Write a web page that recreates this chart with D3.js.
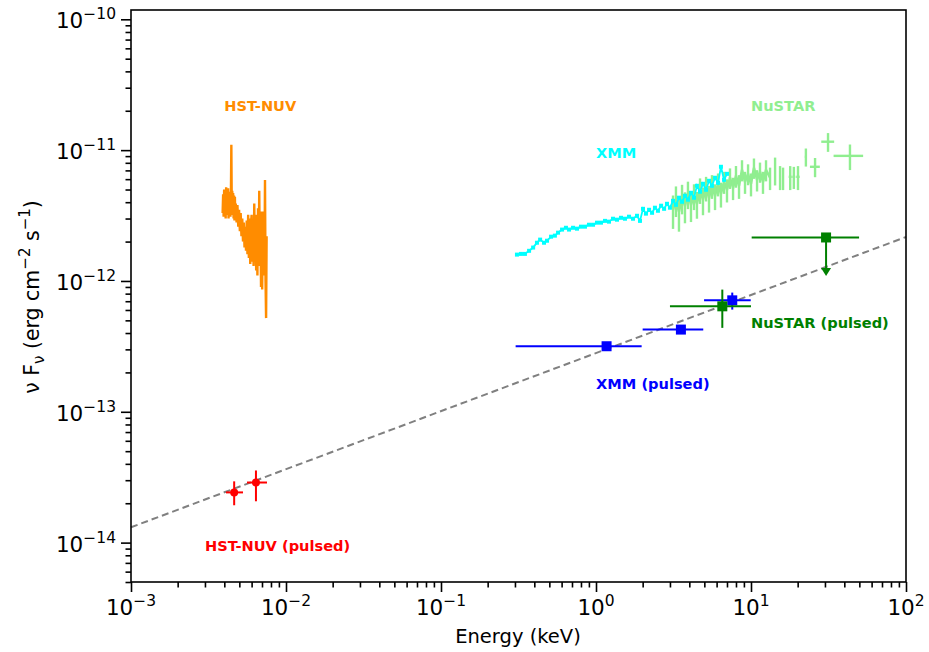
<!DOCTYPE html>
<html>
<head>
<meta charset="utf-8">
<title>Broadband spectrum</title>
<style>
  body { margin: 0; background: #fff; }
  text { font-family: "DejaVu Sans", sans-serif; }
</style>
</head>
<body>
<div id="chart"></div>
<script src="https://cdn.jsdelivr.net/npm/d3@7"></script>
<script>

// HST-NUV spectrum: energy in eV, flux in 1e-12 erg/cm2/s
var hstEv = [3.90, 3.93, 3.96, 3.99, 4.02, 4.05, 4.08, 4.11, 4.14, 4.17, 4.20, 4.23, 4.26, 4.29, 4.32,
  4.35, 4.38, 4.41, 4.44, 4.47, 4.50, 4.53, 4.56, 4.59, 4.62, 4.65, 4.68, 4.71, 4.74,
  4.80, 4.86, 4.92, 4.98, 5.04, 5.10, 5.16, 5.22, 5.28, 5.34, 5.40, 5.46, 5.52, 5.58, 5.64,
  5.70, 5.76, 5.82, 5.88, 5.94, 6.00, 6.06, 6.12, 6.18, 6.24, 6.30, 6.36, 6.42, 6.48, 6.54,
  6.60, 6.66, 6.72, 6.78, 6.84, 6.90, 6.96, 7.02, 7.08, 7.14, 7.20, 7.26, 7.32, 7.38, 7.44, 7.50];
var hstFlux = [3.3, 4.6, 3.1, 5.0, 3.4, 4.9, 3.0, 5.2, 3.5, 4.7, 3.2, 5.1, 3.0, 4.8, 3.3,
  4.6, 3.1, 4.4, 11.0, 3.4, 4.9, 3.2, 4.7, 3.0, 4.5, 2.9, 4.4, 3.1, 3.9,
  2.8, 3.8, 2.6, 3.5, 2.4, 3.3, 2.2, 3.0, 2.0, 2.8, 1.8, 2.6, 1.7, 2.9, 1.6,
  3.2, 1.5, 3.0, 1.35, 2.7, 3.2, 1.4, 2.8, 1.3, 3.9, 1.5, 3.2, 1.2, 2.6, 1.1,
  3.6, 1.3, 4.9, 1.6, 3.4, 0.9, 2.7, 0.86, 3.4, 1.1, 2.8, 1.4, 5.9, 1.0, 0.52, 2.2];

// XMM spectrum: keV, 1e-12 erg/cm2/s
var xmmE = [0.309, 0.328, 0.348, 0.370, 0.393, 0.416, 0.436, 0.462, 0.483, 0.513, 0.543, 0.569, 0.604, 0.640, 0.670,
  0.711, 0.754, 0.800, 0.849, 0.901, 0.957, 1.015, 1.077, 1.143, 1.213, 1.287, 1.366, 1.450, 1.538, 1.633,
  1.733, 1.839, 1.922, 2.01, 2.10, 2.20, 2.30, 2.40, 2.51, 2.63, 2.75, 2.87, 3.00, 3.14, 3.28,
  3.43, 3.59, 3.75, 3.92, 4.10, 4.29, 4.48, 4.69, 4.90, 5.13, 5.36, 5.60, 5.86, 6.13, 6.40, 6.70, 7.00];
var xmmFlux = [1.59, 1.61, 1.61, 1.70, 1.80, 1.96, 2.07, 1.96, 2.03, 2.18, 2.22, 2.34, 2.47, 2.55, 2.47,
  2.55, 2.51, 2.60, 2.60, 2.69, 2.69, 2.79, 2.79, 2.88, 2.84, 2.99, 2.94, 3.04, 2.99, 3.10,
  2.99, 3.15, 2.88, 3.56, 3.27, 3.50, 3.32, 3.63, 3.44, 3.76, 3.56, 3.89, 3.63, 4.10, 3.82,
  4.33, 4.03, 4.48, 4.18, 4.72, 4.33, 5.34, 4.81, 5.53, 4.98, 5.83, 5.34, 6.15, 5.62, 7.46, 5.93, 6.59];

// NuSTAR spectrum: keV, 1e-12 erg/cm2/s, with 1-sigma errors
var nuE = [3.14, 3.28, 3.43, 3.59, 3.75, 3.92, 4.10, 4.29, 4.48, 4.69, 4.90,
  5.13, 5.36, 5.60, 5.86, 6.13, 6.40, 6.70, 7.00, 7.32, 7.66, 8.00,
  8.37, 8.75, 9.15, 9.57, 10.0, 10.45, 10.94, 11.43, 11.95, 12.50, 13.27,
  14.3, 15.4, 16.1, 17.9, 18.9, 20.1, 22.6, 25.9, 31.4, 43.5];
var nuFlux = [3.50, 4.18, 3.38, 4.33, 3.76, 4.64, 3.82, 4.48, 3.89, 4.98, 4.18,
  5.15, 4.33, 5.34, 4.48, 5.53, 4.64, 5.73, 4.98, 6.15, 5.15, 6.36,
  5.34, 7.07, 5.73, 6.59, 5.53, 7.33, 5.93, 6.83, 5.73, 7.07, 6.15,
  7.07, 6.25, 6.15, 6.25, 6.25, 6.25, 8.89, 7.46, 11.6, 9.04];
var nuFluxErr = [1.0, 1.1, 1.0, 1.1, 1.0, 1.1, 1.0, 1.0, 0.9, 1.1, 1.0,
  1.1, 1.0, 1.1, 1.0, 1.1, 1.0, 1.1, 1.0, 1.1, 1.0, 1.2,
  1.1, 1.3, 1.1, 1.2, 1.1, 1.3, 1.1, 1.2, 1.1, 1.3, 1.2,
  1.7, 1.3, 1.2, 1.3, 1.2, 1.3, 1.4, 1.25, 1.9, 2.0];
var nuEErr = [0, 0, 0, 0, 0, 0, 0, 0, 0, 0, 0,
  0, 0, 0, 0, 0, 0, 0, 0, 0, 0, 0,
  0, 0, 0, 0, 0, 0, 0, 0, 0, 0, 0,
  0.2, 0.2, 0.2, 0.4, 0.4, 0.5, 0.35, 1.9, 3.0, 9.4];

// pulsed points: keV and erg/cm2/s
var hstPulsedE = [0.00463, 0.0064];
var hstPulsedELo = [0.0041, 0.0056];
var hstPulsedEHi = [0.00528, 0.00754];
var hstPulsedF = [2.42e-14, 2.88e-14];
var hstPulsedFLo = [1.93e-14, 2.07e-14];
var hstPulsedFHi = [2.94e-14, 3.56e-14];

var xmmPulsedE = [1.17, 3.53, 7.57];
var xmmPulsedELo = [0.303, 2.0, 4.98];
var xmmPulsedEHi = [1.97, 4.92, 9.96];
var xmmPulsedF = [3.17e-13, 4.25e-13, 7.11e-13];
var xmmPulsedFLo = [3.17e-13, 4.25e-13, 6.04e-13];
var xmmPulsedFHi = [3.17e-13, 4.25e-13, 8.15e-13];

var nuPulsedE = [6.53];
var nuPulsedELo = [3.0];
var nuPulsedEHi = [10.0];
var nuPulsedF = [6.4e-13];
var nuPulsedFLo = [4.38e-13];
var nuPulsedFHi = [8.59e-13];

// upper limit
var nuLimitE = 30.5, nuLimitELo = 10.1, nuLimitEHi = 49.8;
var nuLimitF = 2.15e-12, nuLimitArrowF = 1.17e-12;

// power-law model (dashed)
var modelE = [1e-3, 1e2];
var modelF = [1.31e-14, 2.17e-12];

var labels = [
  {text: 'HST-NUV', e: 0.004, f: 2e-11, color: 'darkorange'},
  {text: 'XMM', e: 1, f: 8.7e-12, color: 'cyan'},
  {text: 'NuSTAR', e: 10, f: 2e-11, color: 'lightgreen'},
  {text: 'NuSTAR (pulsed)', e: 10, f: 4.4e-13, color: 'green'},
  {text: 'XMM (pulsed)', e: 1, f: 1.5e-13, color: 'blue'},
  {text: 'HST-NUV (pulsed)', e: 0.003, f: 8.6e-15, color: 'red'}
];

var width = 929;
var height = 652;

var x = d3.scaleLog().domain([1e-3, 1e2]).range([131, 906]);
var y = d3.scaleLog().domain([5e-15, 1.178e-10]).range([582, 10]);

var svg = d3.select('#chart').append('svg')
    .attr('width', width)
    .attr('height', height)
    .style('background', '#fff');

// ticks
var xMajor = [1e-3, 1e-2, 1e-1, 1, 10, 100];
var yMajor = [1e-14, 1e-13, 1e-12, 1e-11, 1e-10];
var xMinor = [], yMinor = [];
d3.range(-3, 2).forEach(function (d) {
  d3.range(2, 10).forEach(function (k) { xMinor.push(k * Math.pow(10, d)); });
});
d3.range(-15, -10).forEach(function (d) {
  d3.range(2, 10).forEach(function (k) {
    var v = k * Math.pow(10, d);
    if (v >= 4.99e-15 && v <= 1.178e-10) yMinor.push(v);
  });
});

function styleAxis(g) {
  g.select('.domain').remove();
  g.selectAll('.tick line').attr('stroke', '#000').attr('stroke-width', 1.6);
}

svg.append('g').attr('transform', 'translate(0,582)')
    .call(d3.axisBottom(x).tickValues(xMinor).tickSize(5.5).tickFormat(''))
    .call(styleAxis);
svg.append('g').attr('transform', 'translate(0,582)')
    .call(d3.axisBottom(x).tickValues(xMajor).tickSize(10).tickFormat(''))
    .call(styleAxis);
svg.append('g').attr('transform', 'translate(131,0)')
    .call(d3.axisLeft(y).tickValues(yMinor).tickSize(5.5).tickFormat(''))
    .call(styleAxis);
svg.append('g').attr('transform', 'translate(131,0)')
    .call(d3.axisLeft(y).tickValues(yMajor).tickSize(10).tickFormat(''))
    .call(styleAxis);

function powerLabel(sel, v) {
  var e = Math.round(Math.log10(v));
  sel.append('tspan').text('10');
  sel.append('tspan').attr('dy', -9).attr('font-size', 15.5)
    .text(e < 0 ? '\u2212' + (-e) : String(e));
}

svg.selectAll('.xlab').data(xMajor).enter().append('text')
    .attr('class', 'xlab')
    .attr('x', function (d) { return x(d); })
    .attr('y', 615)
    .attr('text-anchor', 'middle')
    .attr('font-size', 21.5)
    .each(function (d) { powerLabel(d3.select(this), d); });

svg.selectAll('.ylab').data(yMajor).enter().append('text')
    .attr('class', 'ylab')
    .attr('x', 116)
    .attr('y', function (d) { return y(d) + 9; })
    .attr('text-anchor', 'end')
    .attr('font-size', 21.5)
    .each(function (d) { powerLabel(d3.select(this), d); });

// axis titles
svg.append('text')
    .attr('x', 518).attr('y', 643)
    .attr('text-anchor', 'middle')
    .attr('font-size', 19.5)
    .text('Energy (keV)');

var yt = svg.append('text')
    .attr('transform', 'translate(39,297) rotate(-90)')
    .attr('text-anchor', 'middle')
    .attr('font-size', 20.5);
yt.append('tspan').text('\u03bd F');
yt.append('tspan').attr('dy', 5).attr('font-size', 15).text('\u03bd');
yt.append('tspan').attr('dy', -5).text(' (erg cm');
yt.append('tspan').attr('dy', -9).attr('font-size', 15).text('\u22122');
yt.append('tspan').attr('dy', 9).text(' s');
yt.append('tspan').attr('dy', -9).attr('font-size', 15).text('\u22121');
yt.append('tspan').attr('dy', 9).text(')');

var plot = svg.append('g');

// model line
plot.append('path')
    .datum(d3.zip(modelE, modelF))
    .attr('d', d3.line().x(function (d) { return x(d[0]); }).y(function (d) { return y(d[1]); }))
    .attr('fill', 'none')
    .attr('stroke', 'gray')
    .attr('stroke-width', 2)
    .attr('stroke-dasharray', '7,4');

// HST-NUV spectrum
plot.append('path')
    .datum(d3.zip(hstEv, hstFlux))
    .attr('d', d3.line()
      .x(function (d) { return x(d[0] / 1000); })
      .y(function (d) { return y(d[1] * 1e-12); }))
    .attr('fill', 'none')
    .attr('stroke', 'darkorange')
    .attr('stroke-width', 2.4);

// NuSTAR spectrum
var nuPts = nuE.map(function (e, i) {
  return {e: e, f: nuFlux[i] * 1e-12, fe: nuFluxErr[i] * 1e-12, ee: nuEErr[i]};
});
var nuDense = nuPts.filter(function (d) { return d.ee === 0; });
plot.append('path')
    .datum(nuDense)
    .attr('d', d3.line()
      .x(function (d) { return x(d.e); })
      .y(function (d) { return y(d.f); }))
    .attr('fill', 'none')
    .attr('stroke', 'lightgreen')
    .attr('stroke-width', 2.5);
var nuG = plot.append('g').attr('stroke', 'lightgreen').attr('stroke-width', 2.4);
nuG.selectAll('.v').data(nuPts).enter().append('line')
    .attr('x1', function (d) { return x(d.e); })
    .attr('x2', function (d) { return x(d.e); })
    .attr('y1', function (d) { return y(d.f + d.fe); })
    .attr('y2', function (d) { return y(d.f - d.fe); });
nuG.selectAll('.h').data(nuPts.filter(function (d) { return d.ee > 0; })).enter().append('line')
    .attr('x1', function (d) { return x(d.e - d.ee); })
    .attr('x2', function (d) { return x(d.e + d.ee); })
    .attr('y1', function (d) { return y(d.f); })
    .attr('y2', function (d) { return y(d.f); });

// XMM spectrum, drawn over the NuSTAR band
var xmmPts = d3.zip(xmmE, xmmFlux);
plot.append('path')
    .datum(xmmPts)
    .attr('d', d3.line()
      .x(function (d) { return x(d[0]); })
      .y(function (d) { return y(d[1] * 1e-12); }))
    .attr('fill', 'none')
    .attr('stroke', 'cyan')
    .attr('stroke-width', 1.8);
plot.selectAll('.xmmpt').data(xmmPts).enter().append('rect')
    .attr('x', function (d) { return x(d[0]) - 2; })
    .attr('y', function (d) { return y(d[1] * 1e-12) - 2; })
    .attr('width', 4).attr('height', 4)
    .attr('fill', 'cyan');

function errPoints(E, ELo, EHi, F, FLo, FHi, color, marker) {
  var pts = E.map(function (e, i) {
    return {e: e, elo: ELo[i], ehi: EHi[i], f: F[i], flo: FLo[i], fhi: FHi[i]};
  });
  var g = plot.append('g');
  g.selectAll('.h').data(pts).enter().append('line')
      .attr('x1', function (d) { return x(d.elo); })
      .attr('x2', function (d) { return x(d.ehi); })
      .attr('y1', function (d) { return y(d.f); })
      .attr('y2', function (d) { return y(d.f); })
      .attr('stroke', color).attr('stroke-width', 2);
  g.selectAll('.v').data(pts.filter(function (d) { return d.fhi > d.flo; })).enter().append('line')
      .attr('x1', function (d) { return x(d.e); })
      .attr('x2', function (d) { return x(d.e); })
      .attr('y1', function (d) { return y(d.fhi); })
      .attr('y2', function (d) { return y(d.flo); })
      .attr('stroke', color).attr('stroke-width', 2);
  if (marker === 'square') {
    g.selectAll('.m').data(pts).enter().append('rect')
        .attr('x', function (d) { return x(d.e) - 5; })
        .attr('y', function (d) { return y(d.f) - 5; })
        .attr('width', 10).attr('height', 10)
        .attr('fill', color);
  } else {
    g.selectAll('.m').data(pts).enter().append('circle')
        .attr('cx', function (d) { return x(d.e); })
        .attr('cy', function (d) { return y(d.f); })
        .attr('r', 4)
        .attr('fill', color);
  }
}

errPoints(hstPulsedE, hstPulsedELo, hstPulsedEHi, hstPulsedF, hstPulsedFLo, hstPulsedFHi, 'red', 'circle');
errPoints(xmmPulsedE, xmmPulsedELo, xmmPulsedEHi, xmmPulsedF, xmmPulsedFLo, xmmPulsedFHi, 'blue', 'square');
errPoints(nuPulsedE, nuPulsedELo, nuPulsedEHi, nuPulsedF, nuPulsedFLo, nuPulsedFHi, 'green', 'square');

// NuSTAR pulsed upper limit
var ul = plot.append('g').attr('stroke', 'green').attr('stroke-width', 2);
ul.append('line')
    .attr('x1', x(nuLimitELo)).attr('x2', x(nuLimitEHi))
    .attr('y1', y(nuLimitF)).attr('y2', y(nuLimitF));
ul.append('line')
    .attr('x1', x(nuLimitE)).attr('x2', x(nuLimitE))
    .attr('y1', y(nuLimitF)).attr('y2', y(nuLimitArrowF));
var ax = x(nuLimitE), ay = y(nuLimitArrowF);
plot.append('path')
    .attr('d', 'M' + (ax - 5) + ',' + (ay - 4) + 'L' + (ax + 5) + ',' + (ay - 4) + 'L' + ax + ',' + (ay + 4) + 'Z')
    .attr('fill', 'green');
plot.append('rect')
    .attr('x', x(nuLimitE) - 5).attr('y', y(nuLimitF) - 5)
    .attr('width', 10).attr('height', 10)
    .attr('fill', 'green');

// annotations
svg.selectAll('.ann').data(labels).enter().append('text')
    .attr('x', function (d) { return x(d.e); })
    .attr('y', function (d) { return y(d.f); })
    .attr('font-size', 14.6)
    .attr('font-weight', 'bold')
    .attr('fill', function (d) { return d.color; })
    .text(function (d) { return d.text; });

// frame
svg.append('rect')
    .attr('x', 131).attr('y', 10)
    .attr('width', 775).attr('height', 572)
    .attr('fill', 'none')
    .attr('stroke', '#000')
    .attr('stroke-width', 1.6);

</script>
</body>
</html>
